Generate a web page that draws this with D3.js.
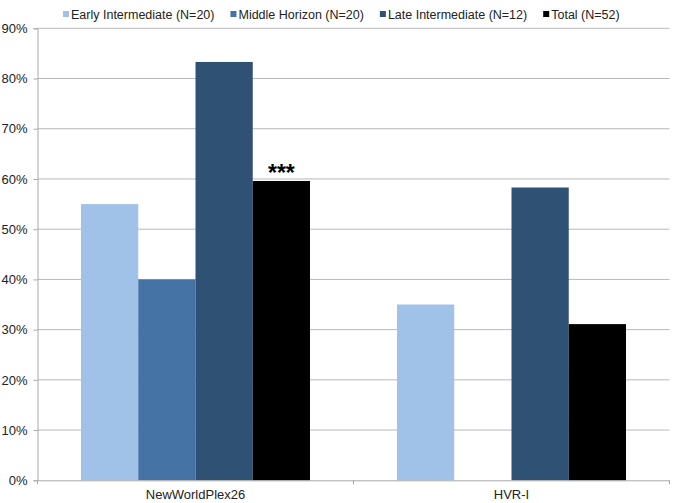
<!DOCTYPE html>
<html>
<head>
<meta charset="utf-8">
<script src="https://cdn.jsdelivr.net/npm/d3@7"></script>
<style>
  body { margin: 0; background: #fff; }
  svg { font-family: "Liberation Sans", Arial, sans-serif; }
</style>
</head>
<body>
<div id="container"></div>
<script>
let w = 673;
let h = 503;

let categories = ["NewWorldPlex26", "HVR-I"];
let seriesNames = ["Early Intermediate (N=20)", "Middle Horizon (N=20)", "Late Intermediate (N=12)", "Total (N=52)"];
let seriesColors = ["#a0c2e8", "#4573a5", "#2f5274", "#000000"];
let earlyValues = [0.55, 0.35];
let middleValues = [0.40, 0];
let lateValues = [0.833, 0.583];
let totalValues = [0.596, 0.311];
let yTicks = [0, 0.1, 0.2, 0.3, 0.4, 0.5, 0.6, 0.7, 0.8, 0.9];
let annotations = [{cat: "NewWorldPlex26", series: 3, text: "***"}];

let allValues = [earlyValues, middleValues, lateValues, totalValues];
let margin = {left: 37.5, right: 3.5, top: 28.3, bottom: 22.7};

let viz = d3.select("#container").append("svg")
    .attr("width", w)
    .attr("height", h);

let xScale = d3.scaleBand()
  .domain(categories)
  .range([margin.left, w - margin.right]);

let innerScale = d3.scaleBand()
  .domain(d3.range(seriesNames.length))
  .range([0, xScale.bandwidth()])
  .paddingOuter(0.76)
  .paddingInner(0);

let yScale = d3.scaleLinear()
  .domain([0, 0.9])
  .range([h - margin.bottom, margin.top]);

// gridlines
viz.append("g").selectAll("line").data(yTicks.slice(1)).join("line")
  .attr("x1", margin.left).attr("x2", w - margin.right)
  .attr("y1", d => yScale(d)).attr("y2", d => yScale(d))
  .attr("stroke", "#b8b8b8").attr("stroke-width", 1);

// bars
let rows = [];
categories.forEach((c, ci) => {
  allValues.forEach((vals, si) => {
    rows.push({cat: c, series: si, value: vals[ci]});
  });
});
viz.append("g").selectAll("rect").data(rows.filter(d => d.value > 0)).join("rect")
  .attr("x", d => xScale(d.cat) + innerScale(d.series))
  .attr("width", innerScale.bandwidth())
  .attr("y", d => yScale(d.value))
  .attr("height", d => yScale(0) - yScale(d.value))
  .attr("fill", d => seriesColors[d.series]);

// y axis
let yAxis = d3.axisLeft(yScale).tickValues(yTicks).tickFormat(d3.format(".0%")).tickSize(4).tickPadding(6);
let yAxisGroup = viz.append("g").attr("transform", "translate(" + margin.left + ",0)").call(yAxis);
yAxisGroup.select(".domain").attr("stroke", "#a8a8a8");
yAxisGroup.selectAll(".tick line").attr("stroke", "#a8a8a8");
yAxisGroup.selectAll("text").attr("fill", "#222").style("font-size", "13px").style("font-family", "Liberation Sans, Arial, sans-serif");

// x axis
let xAxis = d3.axisBottom(xScale).tickSize(0).tickPadding(9);
let xAxisGroup = viz.append("g").attr("transform", "translate(0," + yScale(0) + ")").call(xAxis);
xAxisGroup.select(".domain").attr("stroke", "#a8a8a8");
xAxisGroup.selectAll("text").attr("fill", "#222").style("font-size", "13px").style("font-family", "Liberation Sans, Arial, sans-serif");
// boundary ticks between categories
let bounds = categories.map(c => xScale(c)).concat([xScale(categories[categories.length - 1]) + xScale.bandwidth()]);
xAxisGroup.selectAll(".bound").data(bounds).join("line")
  .attr("x1", d => d).attr("x2", d => d)
  .attr("y1", 0).attr("y2", 4)
  .attr("stroke", "#a8a8a8");

// significance marks
viz.append("g").selectAll("text").data(annotations).join("text")
  .attr("x", d => xScale(d.cat) + innerScale(d.series) + innerScale.bandwidth() / 2)
  .attr("y", d => yScale(allValues[d.series][categories.indexOf(d.cat)]) + 0.5)
  .attr("text-anchor", "middle")
  .style("font-size", "23px")
  .style("font-weight", "bold")
  .text(d => d.text);

// legend
let legend = viz.append("g").attr("transform", "translate(63,0)");
let lx = 0;
seriesNames.forEach((name, i) => {
  let g = legend.append("g").attr("transform", "translate(" + lx + ",0)");
  g.append("rect").attr("x", 0).attr("y", 11).attr("width", 6).attr("height", 6).attr("fill", seriesColors[i]);
  let t = g.append("text").attr("x", 8).attr("y", 18.5)
    .style("font-size", "12.5px").attr("fill", "#222").text(name);
  lx += 8 + t.node().getComputedTextLength() + 16;
});
</script>
</body>
</html>
